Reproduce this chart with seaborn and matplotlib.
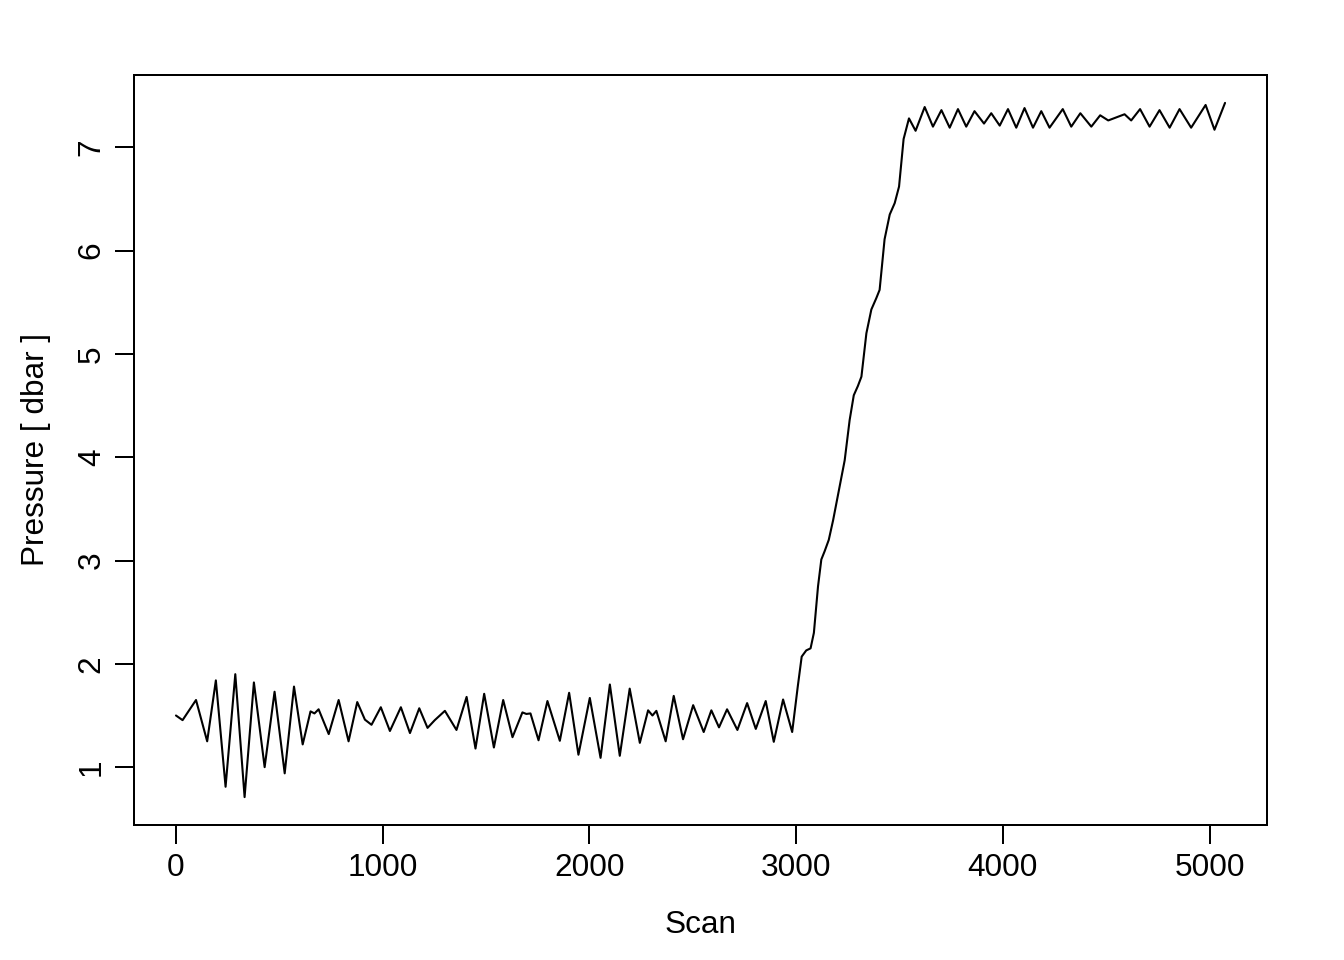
import pandas as pd
import matplotlib
matplotlib.use("Agg")
import matplotlib.pyplot as plt
import seaborn as sns

# scan number vs pressure (peaks, troughs, shoulders)
scan_low = [0, 32, 97, 151, 193, 240, 287, 332, 377, 429, 477, 526, 571, 613,
            651, 670, 690, 739, 787, 835, 877, 914, 946, 991, 1035, 1088, 1132,
            1177, 1217, 1252, 1301, 1357, 1406, 1449, 1491, 1538, 1583, 1628,
            1676, 1695, 1715, 1754, 1797, 1857, 1902, 1947, 2002, 2054, 2099,
            2147, 2195, 2244, 2284, 2305, 2324, 2369, 2408, 2453, 2502, 2553,
            2590, 2627, 2666, 2716, 2763, 2805, 2853, 2892, 2937, 2981]
pres_low = [1.50, 1.455, 1.65, 1.25, 1.84, 0.81, 1.90, 0.71, 1.82, 1.00, 1.73,
            0.94, 1.78, 1.22, 1.54, 1.52, 1.56, 1.32, 1.65, 1.25, 1.63, 1.46,
            1.41, 1.58, 1.35, 1.58, 1.33, 1.57, 1.38, 1.455, 1.545, 1.36, 1.68,
            1.18, 1.71, 1.19, 1.65, 1.29, 1.53, 1.515, 1.52, 1.26, 1.64, 1.255,
            1.72, 1.12, 1.67, 1.09, 1.80, 1.11, 1.76, 1.235, 1.55, 1.50, 1.545,
            1.25, 1.69, 1.27, 1.60, 1.34, 1.55, 1.385, 1.56, 1.36, 1.62, 1.37,
            1.64, 1.245, 1.655, 1.34]

# descent
scan_rise = [3008, 3027, 3049, 3070, 3086, 3106, 3122, 3138, 3158, 3179, 3211,
             3235, 3259, 3279, 3299, 3316, 3340, 3364, 3388, 3404, 3428, 3453,
             3477, 3498, 3520, 3546, 3578]
pres_rise = [1.78, 2.07, 2.13, 2.15, 2.30, 2.75, 3.01, 3.09, 3.20, 3.39, 3.72,
             3.97, 4.36, 4.60, 4.69, 4.78, 5.20, 5.43, 5.54, 5.62, 6.11, 6.35,
             6.46, 6.62, 7.08, 7.28, 7.16]

# bottom soak
scan_top = [3622, 3662, 3703, 3743, 3783, 3823, 3863, 3909, 3944, 3985, 4025,
            4065, 4105, 4146, 4186, 4226, 4290, 4331, 4375, 4428, 4471, 4510,
            4589, 4621, 4664, 4710, 4758, 4807, 4855, 4911, 4981, 5024, 5075]
pres_top = [7.39, 7.20, 7.36, 7.19, 7.37, 7.20, 7.35, 7.23, 7.33, 7.21, 7.37,
            7.19, 7.38, 7.19, 7.35, 7.19, 7.37, 7.20, 7.33, 7.20, 7.31, 7.26,
            7.32, 7.26, 7.37, 7.20, 7.36, 7.19, 7.37, 7.19, 7.41, 7.17, 7.43]

x_ticks = [0, 1000, 2000, 3000, 4000, 5000]
y_ticks = [1, 2, 3, 4, 5, 6, 7]

df = pd.DataFrame({
    "scan": scan_low + scan_rise + scan_top,
    "pressure": pres_low + pres_rise + pres_top,
})

sns.set_style("ticks")
plt.rcParams["font.family"] = ["Liberation Sans", "DejaVu Sans"]

fig = plt.figure(figsize=(13.44, 9.6), dpi=100)
ax = fig.add_axes([134 / 1344, 1 - 825 / 960, 1133 / 1344, 750 / 960])

sns.lineplot(data=df, x="scan", y="pressure", ax=ax, color="black",
             linewidth=1.5, estimator=None, sort=False,
             solid_joinstyle="round", solid_capstyle="round")

ax.set_xlim(-203, 5278)
ax.set_ylim(0.44, 7.70)
ax.set_xticks(x_ticks)
ax.set_yticks(y_ticks)

for side in ["top", "right", "bottom", "left"]:
    ax.spines[side].set_visible(True)
    ax.spines[side].set_linewidth(1.44)
    ax.spines[side].set_color("black")

ax.tick_params(axis="both", length=13.8, width=1.44, color="black",
               labelsize=22.7, labelcolor="black")
ax.tick_params(axis="x", pad=6.5)
ax.tick_params(axis="y", pad=5.8, labelrotation=90)
for lbl in ax.get_yticklabels():
    lbl.set_va("center")

ax.set_xlabel("Scan", fontsize=22.7, va="center", color="black")
ax.set_ylabel("Pressure [ dbar ]", fontsize=22.7, va="center", color="black")
ax.xaxis.set_label_coords(0.5, (825 - 925) / 750)
ax.yaxis.set_label_coords((36 - 134) / 1133, 0.5)

fig.savefig("out.png", dpi=100, facecolor="white")
